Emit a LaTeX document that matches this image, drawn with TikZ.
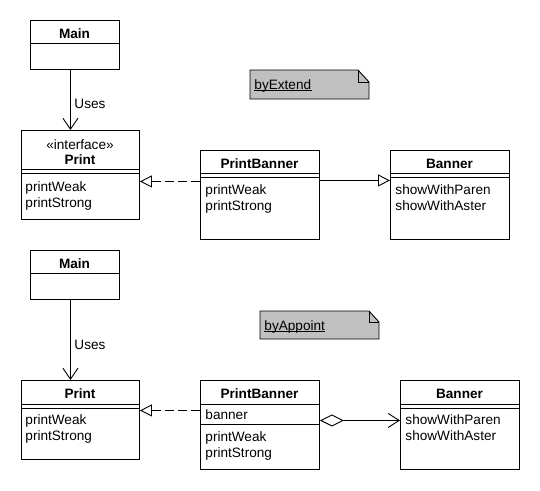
\documentclass[tikz,border=0pt]{standalone}
\usepackage{fontspec}
\setmainfont{Liberation Sans}
\usetikzlibrary{arrows.meta}
\definecolor{notegray}{RGB}{192,192,192}
\begin{document}
\begin{tikzpicture}[x=1pt,y=-1pt,line width=0.9pt,
  every node/.style={font=\fontsize{13.6}{16}\selectfont},
  classbox/.style={draw,rectangle,inner sep=0,anchor=north west,minimum width=#1},
  title/.style={anchor=base,font=\fontsize{13.6}{16}\selectfont\bfseries,inner sep=0},
  item/.style={anchor=base west,inner sep=0},
  uses/.style={-{Straight Barb[length=11pt,width=15pt]}},
  realize/.style={dash pattern=on 9pt off 4pt,-{Triangle[open,length=12pt,width=12pt,fill=white]}},
  general/.style={-{Triangle[open,length=12pt,width=12pt,fill=white]}},
  aggr/.style={{Diamond[open,length=24pt,width=12pt,fill=white]}-{Straight Barb[length=11pt,width=14pt]}},
  notebox/.style={draw,fill=notegray},
  uline/.style={line width=0.7pt}]
\useasboundingbox[fill=white] (0,0) rectangle (540,490);

% ================= top: byExtend =================
\node[classbox=89,minimum height=49] (mainA) at (30,20) {};
\draw ([yshift=-23pt]mainA.north west) -- ([yshift=-23pt]mainA.north east);
\node[title] (mainAt) at (74.5,38) {Main};

\node[classbox=118,minimum height=89] (printA) at (21,130) {};
\node[anchor=base,inner sep=0] (printAst) at (80,149) {«interface»};
\node[title] (printAt) at (80,164) {Print};
\draw ([yshift=-39pt]printA.north west) -- ([yshift=-39pt]printA.north east);
\draw ([yshift=-43pt]printA.north west) -- ([yshift=-43pt]printA.north east);
\node[item] (printAo1) at (25,191) {printWeak};
\node[item] (printAo2) at (25,207) {printStrong};

\node[classbox=119,minimum height=89] (pbA) at (200,150) {};
\node[title] (pbAt) at (259.5,168) {PrintBanner};
\draw ([yshift=-23pt]pbA.north west) -- ([yshift=-23pt]pbA.north east);
\draw ([yshift=-27pt]pbA.north west) -- ([yshift=-27pt]pbA.north east);
\node[item] (pbAo1) at (205,194) {printWeak};
\node[item] (pbAo2) at (205,210) {printStrong};

\node[classbox=119,minimum height=89] (bannerA) at (390,150) {};
\node[title] (bannerAt) at (449.5,168) {Banner};
\draw ([yshift=-23pt]bannerA.north west) -- ([yshift=-23pt]bannerA.north east);
\draw ([yshift=-27pt]bannerA.north west) -- ([yshift=-27pt]bannerA.north east);
\node[item] (bannerAo1) at (395,194) {showWithParen};
\node[item] (bannerAo2) at (395,210) {showWithAster};

\draw[notebox] (250,70) -- (358,70) -- (369,82) -- (369,99) -- (250,99) -- cycle;
\draw (358,70) -- (358,82) -- (369,82);
\node[item] (noteA) at (254,89) {byExtend};
\draw[uline] ([yshift=-1.8pt]noteA.base west) -- ([yshift=-1.8pt]noteA.base east);

\draw[uses] ([xshift=-4.5pt]mainA.south) coordinate (uA) -- (uA |- printA.north);
\node[item] (usesA) at (74,108) {Uses};
\draw[realize] ([yshift=13.5pt]pbA.west) coordinate (rA) -- (rA -| printA.east);
\draw[general] ([yshift=14.5pt]pbA.east) coordinate (gA) -- (gA -| bannerA.west);

% ================= bottom: byAppoint =================
\node[classbox=89,minimum height=49] (mainB) at (30,250) {};
\draw ([yshift=-23pt]mainB.north west) -- ([yshift=-23pt]mainB.north east);
\node[title] (mainBt) at (74.5,268) {Main};

\node[classbox=118,minimum height=79] (printB) at (21,380) {};
\node[title] (printBt) at (80,398) {Print};
\draw ([yshift=-24pt]printB.north west) -- ([yshift=-24pt]printB.north east);
\draw ([yshift=-28pt]printB.north west) -- ([yshift=-28pt]printB.north east);
\node[item] (printBo1) at (25,424) {printWeak};
\node[item] (printBo2) at (25,440) {printStrong};

\node[classbox=119,minimum height=89] (pbB) at (200,380) {};
\node[title] (pbBt) at (259.5,398) {PrintBanner};
\draw ([yshift=-24pt]pbB.north west) -- ([yshift=-24pt]pbB.north east);
\node[item] (pbBa) at (205,419) {banner};
\draw ([yshift=-44pt]pbB.north west) -- ([yshift=-44pt]pbB.north east);
\node[item] (pbBo1) at (205,441) {printWeak};
\node[item] (pbBo2) at (205,457) {printStrong};

\node[classbox=119,minimum height=89] (bannerB) at (400,380) {};
\node[title] (bannerBt) at (459.5,398) {Banner};
\draw ([yshift=-24pt]bannerB.north west) -- ([yshift=-24pt]bannerB.north east);
\draw ([yshift=-28pt]bannerB.north west) -- ([yshift=-28pt]bannerB.north east);
\node[item] (bannerBo1) at (405,424) {showWithParen};
\node[item] (bannerBo2) at (405,440) {showWithAster};

\draw[notebox] (260,311) -- (369,311) -- (379,322) -- (379,339) -- (260,339) -- cycle;
\draw (369,311) -- (369,322) -- (379,322);
\node[item] (noteB) at (264,330) {byAppoint};
\draw[uline] ([yshift=-1.8pt]noteB.base west) -- ([yshift=-1.8pt]noteB.base east);

\draw[uses] ([xshift=-4.5pt]mainB.south) coordinate (uB) -- (uB |- printB.north);
\node[item] (usesB) at (74,349) {Uses};
\draw[realize] ([yshift=14.5pt]pbB.west) coordinate (rB) -- (rB -| printB.east);
\draw[aggr] ([yshift=4.5pt]pbB.east) coordinate (aB) -- (aB -| bannerB.west);
\end{tikzpicture}
\end{document}
